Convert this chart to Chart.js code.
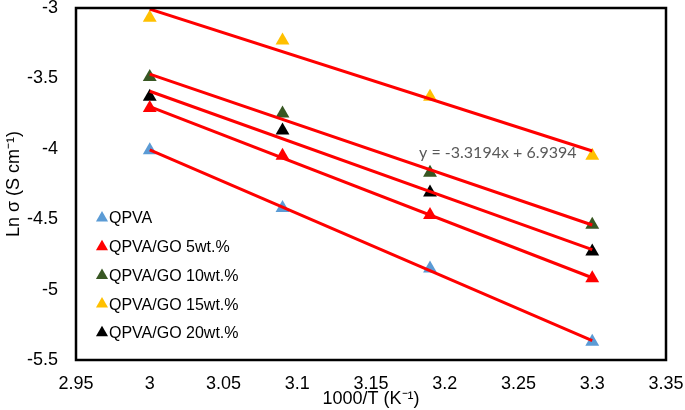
<!DOCTYPE html>
<html>
<head>
<meta charset="utf-8">
<script src="https://cdn.jsdelivr.net/npm/chart.js@4.4.0/dist/chart.umd.min.js"></script>
<style>
  html, body { margin: 0; padding: 0; background: #fff; }
  #wrap { width: 685px; height: 410px; }
</style>
</head>
<body>
<div id="wrap"><canvas id="grafico" width="685" height="410"></canvas></div>
<script>
// dados
const invT = [3.0, 3.09, 3.19, 3.3];
const qpva = [-4.01, -4.42, -4.85, -5.37];
const go5 = [-3.71, -4.05, -4.47, -4.92];
const go10 = [-3.49, -3.75, -4.17, -4.54];
const go15 = [-3.07, -3.23, -3.63, -4.05];
const go20 = [-3.63, -3.87, -4.31, -4.73];

const nomes = ['QPVA', 'QPVA/GO 5wt.%', 'QPVA/GO 10wt.%', 'QPVA/GO 15wt.%', 'QPVA/GO 20wt.%'];
const series = [qpva, go5, go10, go15, go20];
const cores = ['#5B9BD5', '#FF0000', '#385723', '#FFC000', '#000000'];
const equacao = 'y = -3.3194x + 6.9394';

// reta de tendencia (minimos quadrados)
function tendencia(xs, ys) {
    const n = xs.length;
    const mx = xs.reduce((a, b) => a + b, 0) / n;
    const my = ys.reduce((a, b) => a + b, 0) / n;
    let sxy = 0, sxx = 0;
    for (let i = 0; i < n; i++) {
        sxy += (xs[i] - mx) * (ys[i] - my);
        sxx += (xs[i] - mx) * (xs[i] - mx);
    }
    const m = sxy / sxx;
    const b = my - m * mx;
    return [xs[0], xs[n - 1]].map(x => ({ x: x, y: m * x + b }));
}

const datasets = [];
series.forEach((ys, i) => {
    datasets.push({
        label: nomes[i],
        data: invT.map((x, j) => ({ x: x, y: ys[j] })),
        showLine: false,
        pointStyle: 'triangle',
        pointRadius: 8,
        pointHoverRadius: 8,
        backgroundColor: cores[i],
        borderColor: cores[i],
        borderWidth: 0,
        order: 2
    });
});
series.forEach((ys) => {
    datasets.push({
        label: '',
        data: tendencia(invT, ys),
        showLine: true,
        borderColor: '#FF0000',
        borderWidth: 3,
        pointRadius: 0,
        fill: false,
        order: 1
    });
});

const formata = v => String(Number(v.toFixed(2)));

// moldura, legenda e equacao
const extras = {
    id: 'extras',
    afterDatasetsDraw(chart) {
        const ctx = chart.ctx;
        const a = chart.chartArea;
        ctx.save();
        ctx.strokeStyle = '#000';
        ctx.lineWidth = 2.5;
        ctx.strokeRect(a.left, a.top, a.right - a.left, a.bottom - a.top);

        // equacao da tendencia do 15wt.%
        ctx.fillStyle = '#595959';
        ctx.font = '16px Lato';
        ctx.textAlign = 'center';
        ctx.textBaseline = 'middle';
        ctx.fillText(equacao, chart.scales.x.getPixelForValue(3.236), chart.scales.y.getPixelForValue(-4.03));

        // legenda
        ctx.font = '16px "Liberation Sans", Arial';
        ctx.textAlign = 'left';
        nomes.forEach((nome, i) => {
            const y = a.top + 210 + i * 28.7;
            const x = a.left + 26;
            const r = 7;
            ctx.fillStyle = cores[i];
            ctx.beginPath();
            ctx.moveTo(x, y - r);
            ctx.lineTo(x + r * 0.866, y + r * 0.5);
            ctx.lineTo(x - r * 0.866, y + r * 0.5);
            ctx.closePath();
            ctx.fill();
            ctx.fillStyle = '#000';
            ctx.fillText(nome, x + 7, y + 1);
        });
        ctx.restore();
    }
};

const fonteTicks = { family: '"Liberation Sans", Arial', size: 18 };

new Chart(document.getElementById('grafico'), {
    type: 'scatter',
    data: { datasets: datasets },
    options: {
        responsive: false,
        animation: false,
        layout: { padding: { top: 8, right: 19, left: 0, bottom: 0 } },
        plugins: { legend: { display: false }, tooltip: { enabled: false } },
        scales: {
            x: {
                type: 'linear',
                min: 2.95,
                max: 3.35,
                ticks: { stepSize: 0.05, color: '#000', font: fonteTicks, padding: 13, callback: formata, maxRotation: 0, autoSkip: false },
                grid: { display: false, drawTicks: false },
                border: { display: false },
                title: { display: true, text: '1000/T (K\u207B\u00B9)', color: '#000', font: { family: '"Liberation Sans", Arial', size: 18 }, padding: { top: 0, bottom: 0 } },
                afterFit: s => { s.height = 50; s.paddingLeft = 0; s.paddingRight = 0; }
            },
            y: {
                type: 'linear',
                min: -5.5,
                max: -3,
                ticks: { stepSize: 0.5, color: '#000', font: fonteTicks, padding: 18, callback: formata },
                grid: { display: false, drawTicks: false },
                border: { display: false },
                title: { display: true, text: 'Ln \u03C3 (S cm\u207B\u00B9)', color: '#000', font: { family: '"Liberation Sans", Arial', size: 18 }, padding: { top: 3, bottom: 0 } },
                afterFit: s => { s.width = 76; s.paddingTop = 0; s.paddingBottom = 0; }
            }
        }
    },
    plugins: [extras]
});
</script>
</body>
</html>
